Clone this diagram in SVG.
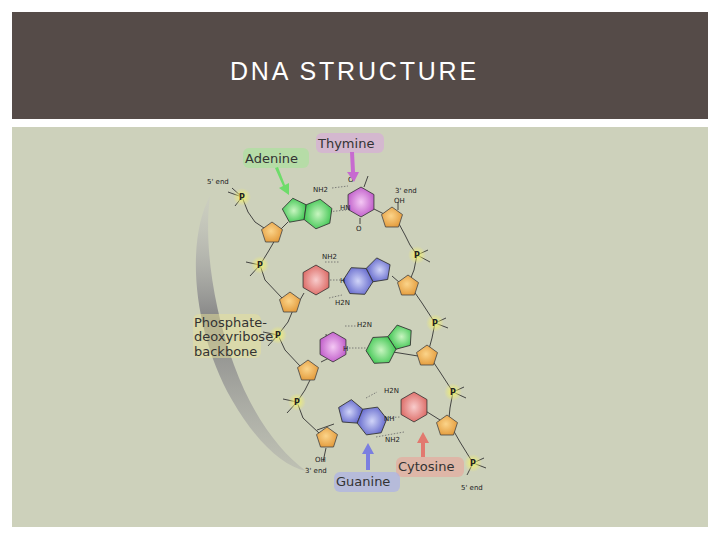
<svg xmlns="http://www.w3.org/2000/svg" width="720" height="540" viewBox="0 0 720 540">
<defs>
<radialGradient id="gO" cx="0.45" cy="0.45" r="0.6"><stop offset="0" stop-color="#fbd48a"/><stop offset="1" stop-color="#e39a3a"/></radialGradient>
<radialGradient id="gG" cx="0.5" cy="0.5" r="0.6"><stop offset="0" stop-color="#c8f5c0"/><stop offset="1" stop-color="#35c24a"/></radialGradient>
<radialGradient id="gP" cx="0.5" cy="0.5" r="0.6"><stop offset="0" stop-color="#f4c8f4"/><stop offset="1" stop-color="#b94fc4"/></radialGradient>
<radialGradient id="gB" cx="0.5" cy="0.5" r="0.6"><stop offset="0" stop-color="#d0d4f8"/><stop offset="1" stop-color="#5a5fc8"/></radialGradient>
<radialGradient id="gR" cx="0.5" cy="0.5" r="0.6"><stop offset="0" stop-color="#f8cccc"/><stop offset="1" stop-color="#d9605a"/></radialGradient>
<radialGradient id="gY" cx="0.5" cy="0.5" r="0.5"><stop offset="0" stop-color="#f3f06a"/><stop offset="1" stop-color="#f3f06a" stop-opacity="0"/></radialGradient>
<linearGradient id="arc" x1="0" y1="0" x2="0" y2="1"><stop offset="0" stop-color="#c8c8c8" stop-opacity="0.3"/><stop offset="0.45" stop-color="#858585"/><stop offset="1" stop-color="#a8a8a8" stop-opacity="0.4"/></linearGradient>
<polygon id="pent" points="0,-11 10.5,-3.4 6.5,9 -6.5,9 -10.5,-3.4" stroke="#444" stroke-width="0.8"/>
<polygon id="hex" points="0,-13 11.26,-6.5 11.26,6.5 0,13 -11.26,6.5 -11.26,-6.5" stroke="#333" stroke-width="0.7"/>
<polygon id="pent5" points="-11.26,-6.5 -11.26,6.5 -23.6,10.5 -31.3,0 -23.6,-10.5" stroke="#333" stroke-width="0.7"/>
<g id="phos"><circle r="9" fill="url(#gY)"/><text y="3" text-anchor="middle" class="p">P</text></g>
</defs>
<style>
.s{font-family:"DejaVu Sans",sans-serif;font-size:7px;fill:#222;}
.p{font-family:"DejaVu Sans",sans-serif;font-size:8px;font-weight:bold;fill:#222;}
.lab{font-family:"DejaVu Sans",sans-serif;font-size:13px;fill:#333;}
.bond{stroke:#333;stroke-width:0.9;fill:none;}
.hb{stroke:#666;stroke-width:0.8;stroke-dasharray:1.5,1.5;fill:none;}
</style>
<rect x="0" y="0" width="720" height="540" fill="#fff"/>
<g id="header"><rect x="12" y="12" width="696" height="107" fill="#554b48"/>
<text x="230" y="80" font-family="'Liberation Sans',Arial,sans-serif" font-size="25" fill="#fff" letter-spacing="2.8">DNA STRUCTURE</text></g>
<rect x="12" y="127" width="696" height="400" fill="#cdd1bb"/>
<path d="M210,196 C186,240 192,330 232,400 C255,440 282,466 306,471 C280,452 252,415 234,365 C212,305 204,240 210,196 Z" fill="url(#arc)"/>
<g id="connectors">
<path class="bond" d="M242,197 L248,212 L255,222 L264,228 M242,197 L232,188 M242,197 L228,192 M242,197 L235,206"/>
<path class="bond" d="M275,240 L268,252 L260,265 L265,280 L282,298 M260,265 L246,262 M260,265 L250,276"/>
<path class="bond" d="M293,310 L288,322 L278,335 L285,350 L300,366 M278,335 L263,332 M278,335 L268,346"/>
<path class="bond" d="M311,378 L305,390 L297,402 L303,418 L319,433 M297,402 L283,399 M297,402 L287,413"/>
<path class="bond" d="M398,222 L405,235 L410,245 L417,255 L414,270 L410,280 M417,255 L428,250 M417,255 L430,262 M398,210 L398,202"/>
<path class="bond" d="M413,290 L422,303 L435,323 L432,338 L429,349 M435,323 L446,318 M435,323 L448,328"/>
<path class="bond" d="M432,360 L440,372 L453,392 L450,408 L449,418 M453,392 L464,387 M453,392 L466,398"/>
<path class="bond" d="M452,428 L460,442 L473,463 L467,475 M473,463 L484,458 M473,463 L486,468"/>
<path class="bond" d="M281,229 L288,222 M372,208 L384,214 M300,300 L304,293 M392,276 L400,283 M345,350 L321,362 M393,352 L418,356 M317,430 L334,424 M424,410 L440,420 M323,462 L326,448 M364,187 L368,176 M360,218 L360,224 M328,350 L326,334"/>
<path class="hb" d="M332,188 L348,186 M327,212 L346,210 M325,262 L340,262 M330,280 L344,280 M329,298 L342,295 M345,326 L358,326 M346,348 L366,348 M366,398 L377,392 M380,418 L400,417 M376,437 L404,432"/>
</g>
<g id="adenine1" transform="translate(318,214) rotate(8) scale(1.15)"><use href="#pent5" fill="url(#gG)"/><use href="#hex" fill="url(#gG)"/></g>
<g id="thymine1" transform="translate(361,202) scale(1.15)"><use href="#hex" fill="url(#gP)"/></g>
<g id="cytosine1" transform="translate(316,280) scale(1.15)"><use href="#hex" fill="url(#gR)"/></g>
<g id="guanine1" transform="translate(358,281) rotate(153) scale(1.15)"><use href="#pent5" fill="url(#gB)"/><use href="#hex" fill="url(#gB)"/></g>
<g id="thymine2" transform="translate(333,347) scale(1.15)"><use href="#hex" fill="url(#gP)"/></g>
<g id="adenine2" transform="translate(381,350) rotate(147) scale(1.15)"><use href="#pent5" fill="url(#gG)"/><use href="#hex" fill="url(#gG)"/></g>
<g id="guanine2" transform="translate(372,421) rotate(22) scale(1.15)"><use href="#pent5" fill="url(#gB)"/><use href="#hex" fill="url(#gB)"/></g>
<g id="cytosine2" transform="translate(414,407) scale(1.15)"><use href="#hex" fill="url(#gR)"/></g>
<g id="sugars">
<use href="#pent" x="272" y="233" fill="url(#gO)"/><use href="#pent" x="290" y="303" fill="url(#gO)"/>
<use href="#pent" x="308" y="371" fill="url(#gO)"/><use href="#pent" x="327" y="438" fill="url(#gO)"/>
<use href="#pent" x="392" y="218" fill="url(#gO)"/><use href="#pent" x="408" y="286" fill="url(#gO)"/>
<use href="#pent" x="427" y="356" fill="url(#gO)"/><use href="#pent" x="447" y="426" fill="url(#gO)"/>
</g>
<g id="phosphates">
<use href="#phos" x="242" y="197"/><use href="#phos" x="260" y="265"/><use href="#phos" x="278" y="335"/><use href="#phos" x="297" y="402"/>
<use href="#phos" x="417" y="255"/><use href="#phos" x="435" y="323"/><use href="#phos" x="453" y="392"/><use href="#phos" x="473" y="463"/>
</g>
<g id="atoms">
<text class="s" x="313" y="192">NH2</text><text class="s" x="340" y="210">HN</text><text class="s" x="348" y="182">O</text><text class="s" x="356" y="231">O</text>
<text class="s" x="394" y="203">OH</text><text class="s" x="322" y="259">NH2</text><text class="s" x="340" y="283">H</text><text class="s" x="335" y="305">H2N</text>
<text class="s" x="357" y="327">H2N</text><text class="s" x="343" y="351">H</text><text class="s" x="384" y="393">H2N</text><text class="s" x="384" y="421">NH</text>
<text class="s" x="385" y="442">NH2</text><text class="s" x="315" y="462">OH</text>
</g>
<g id="labels">
<rect x="243" y="148" width="66" height="20" rx="6" fill="#a6e29a" opacity="0.6"/>
<text class="lab" x="245" y="163">Adenine</text>
<rect x="316" y="133" width="68" height="20" rx="6" fill="#d8a6dc" opacity="0.6"/>
<text class="lab" x="318" y="148">Thymine</text>
<text class="s" x="207" y="184" font-size="9">5' end</text>
<text class="s" x="395" y="193" font-size="9">3' end</text>
<rect x="193" y="314" width="68" height="44" rx="6" fill="#e8e19a" opacity="0.5"/>
<text class="lab" x="194" y="327" font-size="12">Phosphate-</text>
<text class="lab" x="194" y="341" font-size="12">deoxyribose</text>
<text class="lab" x="194" y="356" font-size="12">backbone</text>
<text class="s" x="305" y="473" font-size="9">3' end</text>
<text class="s" x="461" y="490" font-size="9">5' end</text>
<rect x="396" y="457" width="68" height="20" rx="6" fill="#e9a39a" opacity="0.6"/>
<text class="lab" x="398" y="471">Cytosine</text>
<rect x="334" y="472" width="66" height="20" rx="6" fill="#a6acee" opacity="0.6"/>
<text class="lab" x="336" y="486">Guanine</text>
<path d="M275,168 L283,186 L279,188 L289,195 L289,183 L285,185 L278,167 Z" fill="#6edc6a"/>
<path d="M350,152 L351,172 L347,172 L354,182 L359,172 L355,172 L354,152 Z" fill="#c76bd0"/>
<path d="M366,470 L366,454 L362,454 L368,443 L374,454 L370,454 L370,470 Z" fill="#7b7fe0"/>
<path d="M421,457 L421,443 L417,443 L423,432 L429,443 L425,443 L425,457 Z" fill="#e2796f"/>
</g>
</svg>
